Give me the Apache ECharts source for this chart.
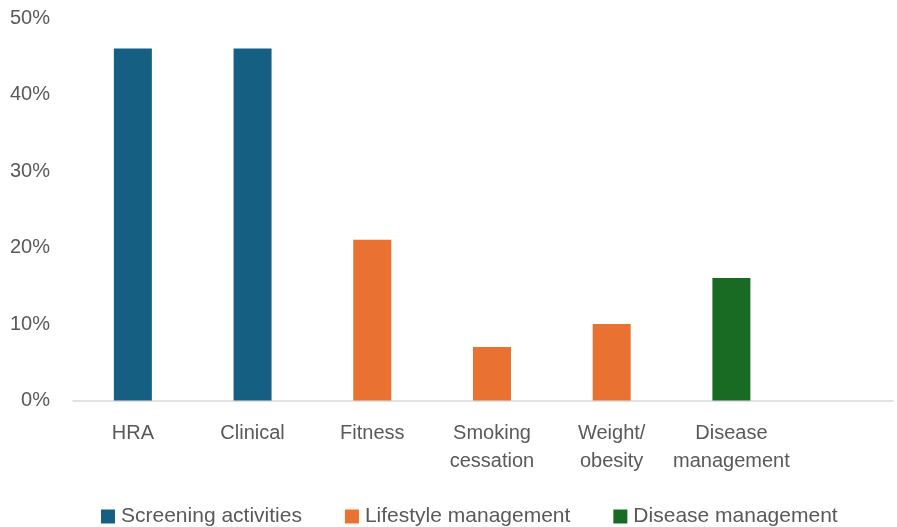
<!DOCTYPE html>
<html>
<head>
<meta charset="utf-8">
<script src="https://cdn.jsdelivr.net/npm/echarts@6/dist/echarts.min.js"></script>
<style>html,body{margin:0;padding:0;background:#fff}#c{width:897px;height:527px}</style>
</head>
<body>
<div id="c"></div>
<script>
var categories = ['HRA', 'Clinical', 'Fitness', 'Smoking\ncessation', 'Weight/\nobesity', 'Disease\nmanagement'];
var screening = [46, 46, null, null, null, null];
var lifestyle = [null, null, 21, 7, 10, null];
var disease = [null, null, null, null, null, 16];
var seriesNames = ['Screening activities', 'Lifestyle management', 'Disease management'];
var yTicks = [0, 10, 20, 30, 40, 50];

var colors = ['#156082', '#E97132', '#196B24'];
var font = 'Liberation Sans, Arial, sans-serif';
var chart = echarts.init(document.getElementById('c'), null, {renderer: 'canvas'});
var data = [screening, lifestyle, disease];
var catIdx = categories.map(function (c, i) { return i; });
chart.setOption({
  animation: false,
  color: colors,
  grid: {left: 73, top: 18, height: 382.5, right: 4, containLabel: false},
  legend: {
    left: 96, top: 501, itemWidth: 14, itemHeight: 14, itemGap: 43,
    icon: 'rect',
    textStyle: {fontFamily: font, fontSize: 21, color: '#595959', padding: [0, 0, 0, 1]},
    data: seriesNames
  },
  xAxis: {
    type: 'value', min: -0.5, max: 6.35,
    axisLine: {onZero: false, lineStyle: {color: '#D9D9D9', width: 1.5}},
    axisTick: {show: false},
    splitLine: {show: false},
    axisLabel: {
      fontFamily: font, fontSize: 20, color: '#595959', lineHeight: 28, margin: 19,
      customValues: catIdx,
      showMinLabel: true, showMaxLabel: true,
      formatter: function (v) { var i = Math.round(v); return categories[i] || ''; }
    }
  },
  yAxis: {
    type: 'value', min: yTicks[0], max: yTicks[yTicks.length - 1], interval: 10,
    axisLine: {show: false}, axisTick: {show: false}, splitLine: {show: false},
    axisLabel: {fontFamily: font, fontSize: 20, color: '#595959', margin: 23, formatter: '{value}%'}
  },
  series: seriesNames.map(function (n, i) {
    return {
      name: n, type: 'bar', stack: 'all', barWidth: 38,
      data: data[i].map(function (v, j) { return [j, v]; })
    };
  })
});
</script>
</body>
</html>
